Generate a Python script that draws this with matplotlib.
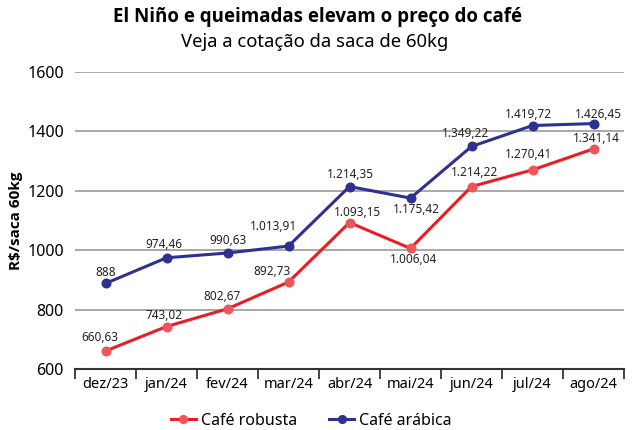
import matplotlib.pyplot as plt

plt.rcParams['font.family'] = ['Noto Sans', 'DejaVu Sans']
NEGRITO = ['Open Sans', 'DejaVu Sans']

meses = ['dez/23', 'jan/24', 'fev/24', 'mar/24', 'abr/24', 'mai/24', 'jun/24', 'jul/24', 'ago/24']
robusta = [660.63, 743.02, 802.67, 892.73, 1093.15, 1006.04, 1214.22, 1270.41, 1341.14]
arabica = [888, 974.46, 990.63, 1013.91, 1214.35, 1175.42, 1349.22, 1419.72, 1426.45]
rotulos_robusta = ['660,63', '743,02', '802,67', '892,73', '1.093,15', '1.006,04', '1.214,22', '1.270,41', '1.341,14']
rotulos_arabica = ['888', '974,46', '990,63', '1.013,91', '1.214,35', '1.175,42', '1.349,22', '1.419,72', '1.426,45']

# deslocamento dos rotulos em pixels (dx, dy)
off_rob = [(-6, 13), (-2, 11), (-5, 12), (-16, 11), (8, 10), (3, -11), (3, 14), (-4, 15), (3, 10)]
off_ara = [(0, 11), (-3, 13), (1, 12), (-15, 20), (1, 12), (6, -11), (-6, 13), (-4, 11), (5, 9)]

VERMELHO = '#ec1c24'
AZUL = '#2e3192'

fig = plt.figure(figsize=(6.35, 4.3), dpi=100)
ax = fig.add_axes([75/635, 1 - 369/430, 549/635, 297/430])

x = range(len(meses))
ax.plot(x, robusta, color=VERMELHO, lw=2.2, marker='o', ms=6.2,
        mfc='#f0545a', mec='#f0545a', label='Café robusta', zorder=3)
ax.plot(x, arabica, color=AZUL, lw=2.2, marker='o', ms=6.2,
        mfc=AZUL, mec=AZUL, label='Café arábica', zorder=3)

for i in x:
    ax.annotate(rotulos_robusta[i], (i, robusta[i]), xytext=off_rob[i],
                textcoords='offset pixels', ha='center', va='center',
                fontsize=8.5, color='#222222', zorder=4)
    ax.annotate(rotulos_arabica[i], (i, arabica[i]), xytext=off_ara[i],
                textcoords='offset pixels', ha='center', va='center',
                fontsize=8.5, color='#222222', zorder=4)

ax.set_xlim(-0.5, len(meses) - 0.5)
ax.set_ylim(600, 1600)
ax.set_yticks([600, 800, 1000, 1200, 1400, 1600])
ax.yaxis.grid(True, color='#9a9a9a', lw=1.2)
ax.set_axisbelow(True)
ax.tick_params(axis='y', length=0, labelsize=11.5, pad=8)

ax.set_xticks([i - 0.5 for i in range(len(meses) + 1)])
ax.set_xticklabels([])
ax.set_xticks(list(x), minor=True)
ax.set_xticklabels(meses, minor=True, fontsize=10.5)
ax.tick_params(axis='x', which='major', length=7, width=1.2, color='#222222')
ax.tick_params(axis='x', which='minor', length=0, pad=6)

for s in ['top', 'right', 'left']:
    ax.spines[s].set_visible(False)
ax.spines['bottom'].set_color('#333333')
ax.spines['bottom'].set_linewidth(1.5)

ax.set_ylabel('R$/saca 60kg', fontsize=11, fontweight='bold', family=NEGRITO, labelpad=3)

fig.text(0.5, 1 - 17/430, 'El Niño e queimadas elevam o preço do café',
         ha='center', va='center', fontsize=13.5, fontweight='bold', family=NEGRITO)
fig.text(0.495, 1 - 42/430, 'Veja a cotação da saca de 60kg',
         ha='center', va='center', fontsize=13.3)

fig.legend(loc='center', bbox_to_anchor=(0.49, 1 - 421/430), ncol=2,
           frameon=False, fontsize=11.5, handlelength=1.6, columnspacing=2.0,
           handletextpad=0.3, markerscale=0.9)

fig.savefig('out.png', dpi=100)
